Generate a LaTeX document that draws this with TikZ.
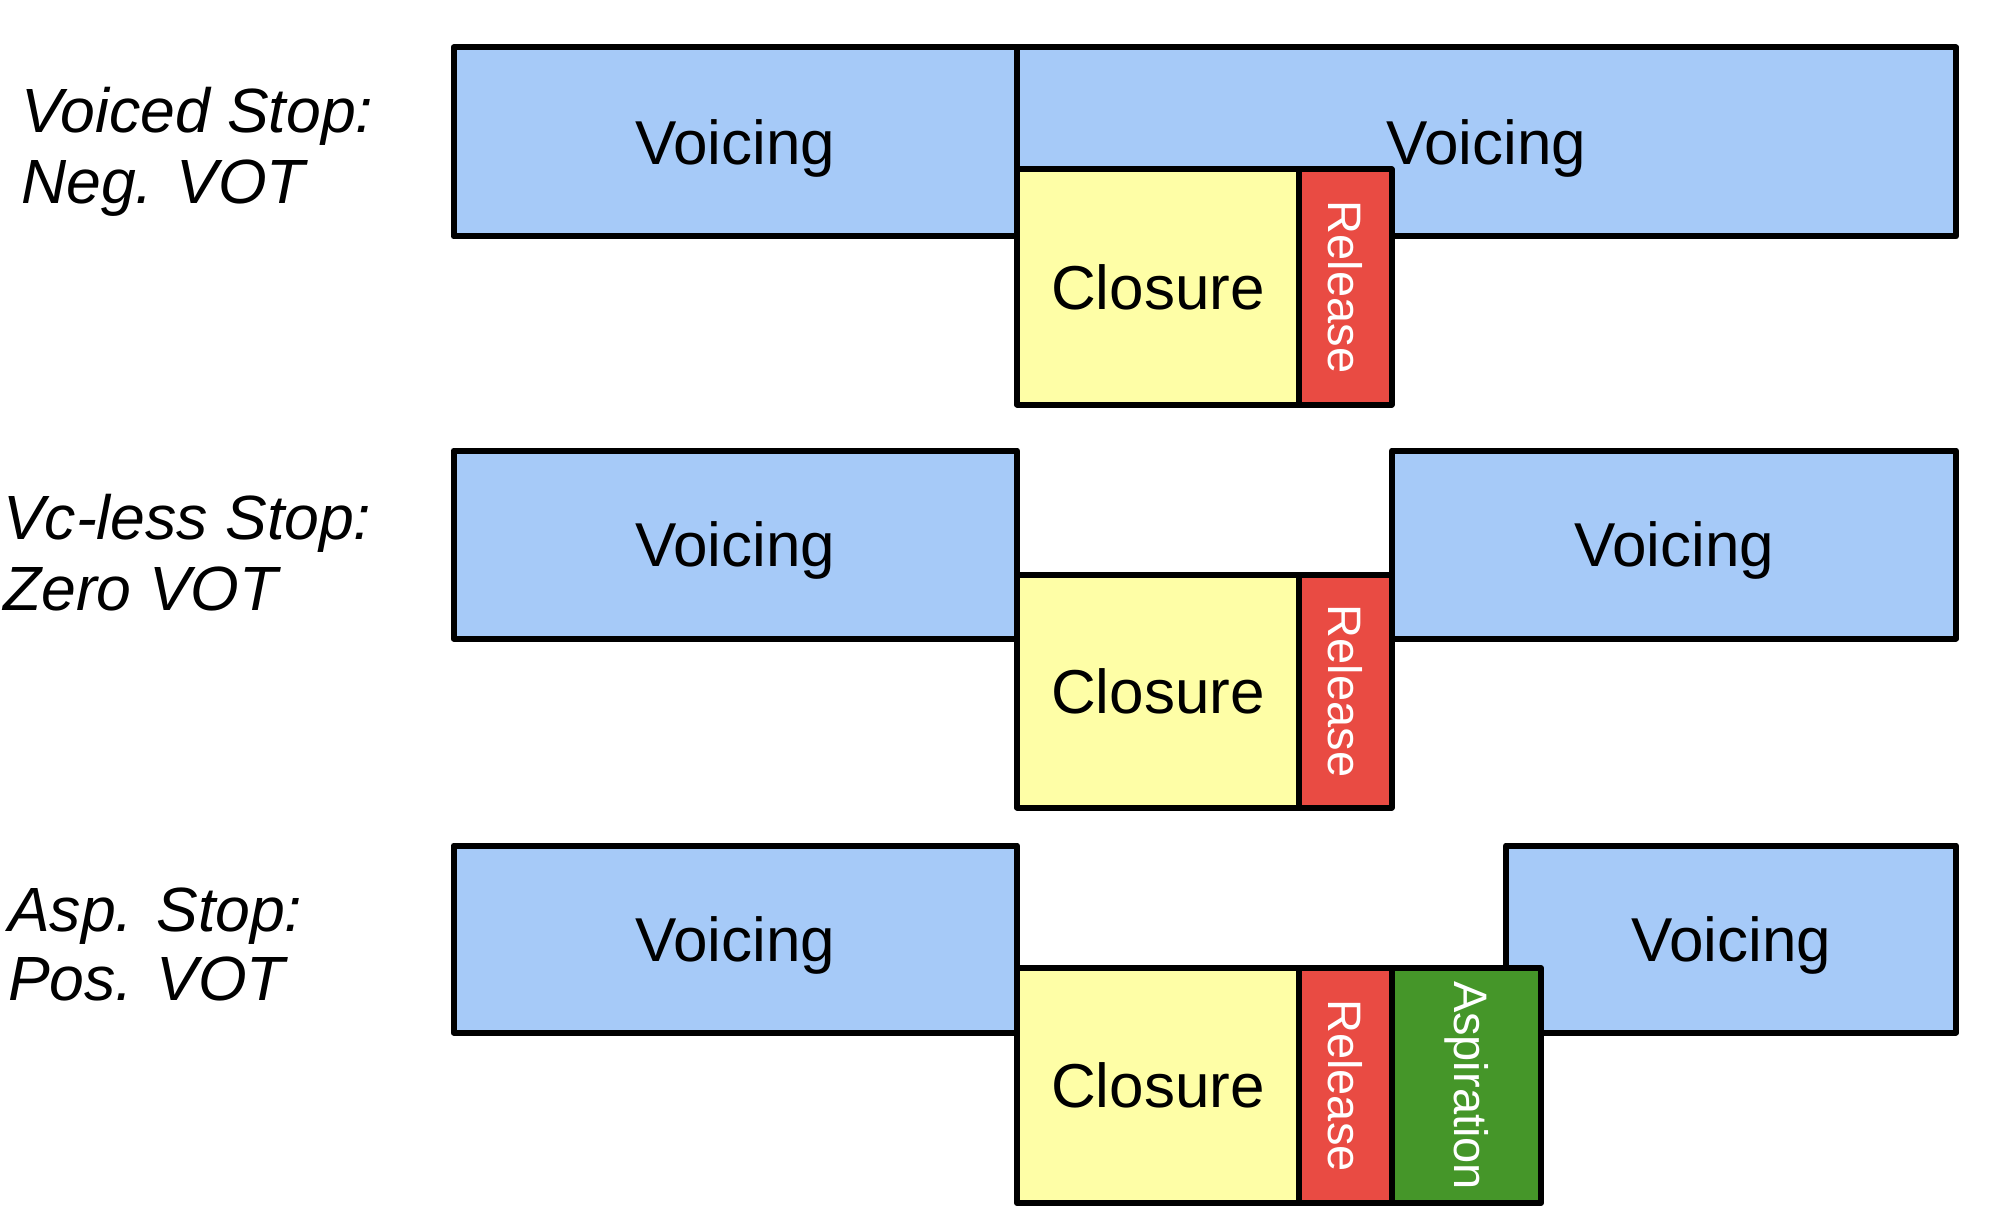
\documentclass[tikz,border=0pt]{standalone}
\usepackage{fontspec}
\setmainfont{Liberation Sans}
\definecolor{vblue}{HTML}{A6CAF8}
\definecolor{cyellow}{HTML}{FEFEA6}
\definecolor{rred}{HTML}{E94B43}
\definecolor{agreen}{HTML}{459629}
\tikzset{
  seg/.style={draw=black, line width=6pt, line join=round, inner sep=0pt, outer sep=0pt, anchor=north west},
  vbox/.style={seg, fill=vblue, font=\fontsize{62}{72}\selectfont, text height=44.4pt, text depth=0pt},
  cbox/.style={seg, fill=cyellow, font=\fontsize{62}{72}\selectfont, text height=44.4pt, text depth=0pt},
  rbox/.style={seg, fill=rred, text=white, font=\fontsize{47}{55}\selectfont},
  abox/.style={seg, fill=agreen, text=white, font=\fontsize{47}{55}\selectfont},
  lab/.style={anchor=base west, inner sep=0pt, font=\fontsize{62.5}{72}\selectfont\itshape}
}
\begin{document}
\begin{tikzpicture}[x=1pt, y=-1pt]
\useasboundingbox (0,0) rectangle (2004,1230);
% Row 1
\node[lab] (l1a) at (21,133) {Voiced Stop:};
\node[lab] (l1b) at (21,204) {Neg. VOT};
\node[vbox, minimum width=563.5pt, minimum height=189pt] (v1a) at (453.5,47.5) {Voicing};
\node[vbox, minimum width=939pt, minimum height=189pt] (v1b) at (1017,47.5) {Voicing};
\node[cbox, minimum width=282pt, minimum height=235pt] (c1) at (1017,169.5) {Closure};
\node[rbox, minimum width=92.5pt, minimum height=235pt] (r1) at (1299,169.5) {\rotatebox{-90}{Release}};
% Row 2
\node[lab] (l2a) at (3,539) {Vc-less Stop:};
\node[lab] (l2b) at (3,610) {Zero VOT};
\node[vbox, minimum width=563.5pt, minimum height=188pt] (v2a) at (453.5,450.5) {Voicing};
\node[vbox, minimum width=564pt, minimum height=188pt] (v2b) at (1392,450.5) {Voicing};
\node[cbox, minimum width=282pt, minimum height=233pt] (c2) at (1017,574.5) {Closure};
\node[rbox, minimum width=92.5pt, minimum height=233pt] (r2) at (1299,574.5) {\rotatebox{-90}{Release}};
% Row 3
\node[lab] (l3a) at (8,931) {Asp. Stop:};
\node[lab] (l3b) at (8,1000) {Pos. VOT};
\node[vbox, minimum width=563.5pt, minimum height=187pt] (v3a) at (453.5,845.5) {Voicing};
\node[vbox, minimum width=450pt, minimum height=187pt] (v3b) at (1506,845.5) {Voicing};
\node[cbox, minimum width=282pt, minimum height=235pt] (c3) at (1017,968) {Closure};
\node[rbox, minimum width=92.5pt, minimum height=235pt] (r3) at (1299,968) {\rotatebox{-90}{Release}};
\node[abox, minimum width=149.5pt, minimum height=235pt] (a3) at (1391.5,968) {\rotatebox{-90}{Aspiration}};
\end{tikzpicture}
\end{document}
